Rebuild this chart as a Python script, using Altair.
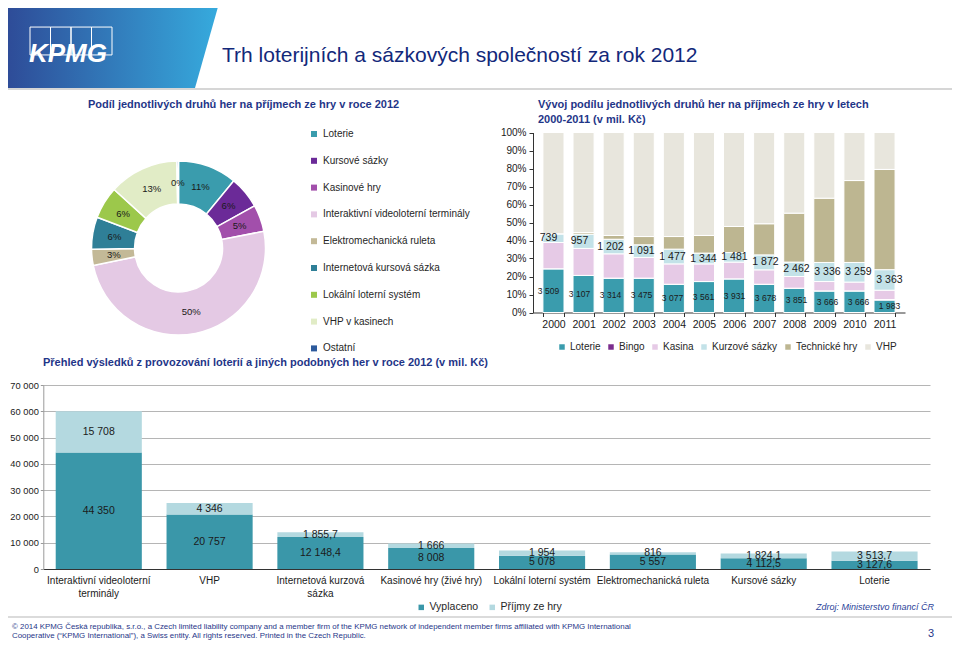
import altair as alt
import pandas as pd

FONT = "Liberation Sans"
NAVY = "#1f3688"
TEXT = "#1a1a1a"

# ---------------- texts ----------------
page_title = "Trh loterijních a sázkových společností za rok 2012"
logo_text = "KPMG"
pie_title = "Podíl jednotlivých druhů her na příjmech ze hry v roce 2012"
trend_title = ["Vývoj podílu  jednotlivých druhů her na příjmech ze hry v letech",
               "2000-2011 (v mil. Kč)"]
bottom_title = "Přehled výsledků z provozování loterií a jiných podobných  her v roce 2012 (v mil. Kč)"
source_text = "Zdroj: Ministerstvo financí ČR"
footer_lines = [
    "© 2014 KPMG Česká republika, s.r.o., a Czech limited liability company and a member firm of the KPMG network of independent member firms affiliated with KPMG International",
    "Cooperative (“KPMG International”), a Swiss entity. All rights reserved. Printed in the Czech Republic.",
]
page_number = "3"

# ---------------- pie (2012 shares, %) ----------------
pie_categories = ["Loterie", "Kursové sázky", "Kasinové hry",
                  "Interaktivní videoloterní terminály", "Elektromechanická ruleta",
                  "Internetová kursová sázka", "Lokální loterní systém",
                  "VHP v kasinech", "Ostatní"]
pie_shares = [11, 6, 5, 50, 3, 6, 6, 13, 0.3]
pie_colors = ["#3a9cad", "#6b2a98", "#a24fab", "#e4c9e4", "#c3b997",
              "#2f7f97", "#9cc84b", "#e1ecc6", "#2d5a9c"]

# ---------------- 100% stacked trend 2000-2011 ----------------
years = ["2000", "2001", "2002", "2003", "2004", "2005",
         "2006", "2007", "2008", "2009", "2010", "2011"]
trend_series = ["Loterie", "Bingo", "Kasina", "Kurzové sázky", "Technické hry", "VHP"]
trend_colors = ["#3a9cad", "#7b2d8e", "#e6cae6", "#c3e2e8", "#bdb691", "#e8e6dd"]
share_loterie = [24.3, 20.6, 19.1, 19.1, 15.7, 17.2, 18.7, 15.7, 13.5, 12.0, 12.0, 6.9]
share_bingo = [0.0, 0.0, 0.0, 0.0, 0.0, 0.0, 0.0, 0.0, 0.0, 0.0, 0.0, 0.3]
share_kasina = [14.6, 15.0, 13.5, 11.5, 11.3, 9.8, 9.3, 8.0, 6.5, 5.2, 4.9, 5.2]
share_kurzove = [4.8, 7.9, 8.1, 7.0, 8.2, 6.0, 5.3, 8.3, 8.0, 10.6, 10.9, 11.4]
share_technicke = [0.0, 0.9, 2.1, 4.6, 7.0, 9.8, 14.5, 17.3, 27.2, 35.7, 45.5, 55.7]
share_vhp = [56.3, 55.6, 57.2, 57.8, 57.8, 57.2, 52.2, 50.7, 44.8, 36.5, 26.7, 20.5]
loterie_values = [3509, 3107, 3314, 3475, 3077, 3561, 3931, 3678, 3851, 3666, 3666, 1983]
kurzove_values = [739, 957, 1202, 1091, 1477, 1344, 1481, 1872, 2462, 3336, 3259, 3363]

# ---------------- bottom stacked bars 2012 (mil. Kč) ----------------
bottom_categories = ["Interaktivní videoloterní terminály", "VHP", "Internetová kurzová sázka",
                     "Kasinové hry (živé hry)", "Lokální loterní systém",
                     "Elektromechanická ruleta", "Kursové sázky", "Loterie"]
bottom_series = ["Vyplaceno", "Příjmy ze hry"]
bottom_colors = ["#3a97a9", "#b4d9e0"]
paid_out = [44350, 20757, 12148.4, 8008, 5078, 5557, 4112.5, 3127.6]
game_revenue = [15708, 4346, 1855.7, 1666, 1954, 816, 1824.1, 3513.7]
bottom_ticks = [0, 10000, 20000, 30000, 40000, 50000, 60000, 70000]


def cz(v):
    if float(v).is_integer():
        return f"{int(v):,}".replace(",", " ")
    return f"{v:,.1f}".replace(",", " ").replace(".", ",")


one = pd.DataFrame({"k": [0]})

# ================= decorations =================
header_band = alt.Chart(one).mark_point(
    shape="M-1,-0.381L0.997,-0.381L0.781,0.381L-1,0.381Z",
    size=44100, filled=True, opacity=1, strokeWidth=0,
    fill=alt.LinearGradient(gradient="linear",
                            stops=[alt.GradientStop(color="#2e4c98", offset=0),
                                   alt.GradientStop(color="#36aadd", offset=1)],
                            x1=0, x2=1, y1=0, y2=0),
).encode(x=alt.value(105), y=alt.value(40))

logo_boxes = alt.Chart(one).mark_point(
    shape="M-1,-0.34H-0.5V0.34H-1Z M-0.5,-0.34H0V0.34H-0.5Z M0,-0.34H0.5V0.34H0Z M0.5,-0.34H1V0.34H0.5Z",
    size=6724, filled=False, opacity=1, stroke="white", strokeWidth=1,
).encode(x=alt.value(63), y=alt.value(33))

logo = alt.Chart(one).mark_text(
    text=logo_text, fontSize=26, fontWeight="bold", fontStyle="italic", color="white",
    align="center", baseline="alphabetic",
).encode(x=alt.value(60), y=alt.value(54))

title = alt.Chart(one).mark_text(
    text=page_title, fontSize=21, color="#12287a", align="left", baseline="alphabetic",
).encode(x=alt.value(214), y=alt.value(54))

header_rule = alt.Chart(one).mark_rule(color="#d6d6d6", strokeWidth=2).encode(
    x=alt.value(0), x2=alt.value(944), y=alt.value(81))
footer_rule = alt.Chart(one).mark_rule(color="#cfcfcf", strokeWidth=1.5).encode(
    x=alt.value(0), x2=alt.value(944), y=alt.value(609))


def label_text(txt, x, y, size=11, weight="bold", color=NAVY, align="left", style="normal", lh=15):
    return alt.Chart(one).mark_text(
        text=txt, fontSize=size, fontWeight=weight, color=color, align=align,
        baseline="alphabetic", fontStyle=style, lineHeight=lh,
    ).encode(x=alt.value(x), y=alt.value(y))


t_pie = label_text(pie_title, 80, 100)
t_trend = label_text(trend_title, 530, 100)
t_bottom = label_text(bottom_title, 35, 358)
t_source = label_text(source_text, 926, 602, size=9, weight="normal", color="#2b3f99",
                      align="right", style="italic")
t_footer = label_text(footer_lines, 4, 621, size=7.9, weight="normal", color="#1f3688", lh=8.5)
t_page = label_text(page_number, 926, 629, size=11, weight="normal", color=NAVY, align="right")

# ================= pie =================
pie_df = pd.DataFrame({
    "cat": pie_categories,
    "share": pie_shares,
    "idx": list(range(len(pie_categories))),
    "label": [f"{round(s)}%" for s in pie_shares],
})
CX, CY = 170.5, 240
pie_arc = alt.Chart(pie_df).mark_arc(innerRadius=44, outerRadius=87, stroke="white", strokeWidth=1.5).encode(
    theta=alt.Theta("share:Q", stack=True),
    order=alt.Order("idx:Q"),
    color=alt.Color("cat:N", scale=alt.Scale(domain=pie_categories, range=pie_colors),
                    legend=alt.Legend(orient="none", legendX=301, legendY=121, direction="vertical",
                                      title=None, symbolType="square", symbolSize=36,
                                      symbolStrokeWidth=0, labelFontSize=10, labelColor="#262626",
                                      rowPadding=16.8, labelOffset=4, labelLimit=300)),
    x=alt.value(CX), y=alt.value(CY),
)
pie_lab = alt.Chart(pie_df).mark_text(radius=65, fontSize=9.5, color=TEXT).encode(
    theta=alt.Theta("share:Q", stack=True),
    order=alt.Order("idx:Q"),
    text="label:N",
    x=alt.value(CX), y=alt.value(CY),
)

# ================= trend 100% bars =================
series_lists = [share_loterie, share_bingo, share_kasina, share_kurzove, share_technicke, share_vhp]
rows = []
for i, yr in enumerate(years):
    for j, s in enumerate(trend_series):
        lab = ""
        if s == "Loterie":
            lab = cz(loterie_values[i])
        elif s == "Kurzové sázky":
            lab = cz(kurzove_values[i])
        rows.append({"year": yr, "series": s, "share": series_lists[j][i], "sidx": j, "label": lab})
trend_df = pd.DataFrame(rows)


def tx():
    return alt.Scale(domain=years, range=[525, 897], paddingInner=0.3, paddingOuter=0.33)


def ty():
    return alt.Scale(domain=[0, 1], range=[304.5, 124.5], nice=False)


trend_bars = alt.Chart(trend_df).mark_bar(stroke="white", strokeWidth=1).encode(
    x=alt.X("year:N", sort=years, scale=tx(),
            axis=alt.Axis(orient="bottom", offset=-327.5, title=None, labelAngle=0, labelFontSize=10.5,
                          labelColor=TEXT, domainColor="#333333", tickColor="#333333", tickSize=4,
                          tickBand="extent", labelPadding=3, grid=False, labelOverlap=False)),
    y=alt.Y("share:Q", stack="normalize", scale=ty(),
            axis=alt.Axis(orient="left", offset=-525, title=None, format=".0%",
                          values=[i / 10 for i in range(11)], labelFontSize=10, labelColor=TEXT,
                          domainColor="#333333", tickColor="#333333", tickSize=4, grid=False,
                          labelPadding=3)),
    color=alt.Color("series:N", scale=alt.Scale(domain=trend_series, range=trend_colors),
                    legend=alt.Legend(orient="none", legendX=549, legendY=334, direction="horizontal",
                                      title=None, symbolType="square", symbolSize=30,
                                      symbolStrokeWidth=0, labelFontSize=10, labelColor="#262626",
                                      columnPadding=5, labelOffset=3)),
    order=alt.Order("sidx:Q"),
)

trend_base = alt.Chart(trend_df).transform_joinaggregate(
    total="sum(share)", groupby=["year"]
).transform_stack(
    stack="share", groupby=["year"], as_=["s0", "s1"], sort=[alt.SortField("sidx", order="ascending")]
).transform_calculate(mid="(datum.s0 + datum.s1) / 2 / datum.total")

trend_lot = trend_base.transform_filter("datum.series == 'Loterie'").mark_text(
    fontSize=8.5, color=TEXT).encode(
    x=alt.X("year:N", sort=years, scale=tx(), axis=None),
    y=alt.Y("mid:Q", scale=ty(), axis=None),
    text="label:N")
trend_kurz = trend_base.transform_filter("datum.series == 'Kurzové sázky'").mark_text(
    fontSize=10.5, color=TEXT).encode(
    x=alt.X("year:N", sort=years, scale=tx(), axis=None),
    y=alt.Y("mid:Q", scale=ty(), axis=None),
    text="label:N")

# ================= bottom stacked bars =================
brows = []
for i, c in enumerate(bottom_categories):
    brows.append({"category": c, "series": bottom_series[0], "value": paid_out[i], "sidx": 0,
                  "label": cz(paid_out[i])})
    brows.append({"category": c, "series": bottom_series[1], "value": game_revenue[i], "sidx": 1,
                  "label": cz(game_revenue[i])})
bottom_df = pd.DataFrame(brows)


def bx():
    return alt.Scale(domain=bottom_categories, range=[35.3, 922], paddingInner=0.223, paddingOuter=0.112)


def by():
    return alt.Scale(domain=[0, 70000], range=[561, 377], nice=False)


wrap_expr = ("datum.value == 'Interaktivní videoloterní terminály' ? ['Interaktivní videoloterní', 'terminály'] : "
             "datum.value == 'Internetová kurzová sázka' ? ['Internetová kurzová', 'sázka'] : datum.value")

bottom_bars = alt.Chart(bottom_df).mark_bar().encode(
    x=alt.X("category:N", sort=bottom_categories, scale=bx(),
            axis=alt.Axis(orient="bottom", offset=-71, title=None, labelAngle=0, ticks=False,
                          labelFontSize=10, labelColor=TEXT, domainColor="#333333", domainWidth=1.2,
                          labelPadding=6, labelExpr=wrap_expr, labelLineHeight=13.5,
                          labelOverlap=False, labelLimit=300)),
    y=alt.Y("value:Q", stack="zero", scale=by(),
            axis=alt.Axis(orient="left", offset=-35.3, title=None, values=bottom_ticks,
                          labelExpr="replace(format(datum.value, ','), ',', ' ')",
                          labelFontSize=9.3, labelColor=TEXT, grid=True, gridColor="#b5b5b5",
                          gridWidth=1.2, domainColor="#9a9a9a", tickColor="#9a9a9a", tickSize=3,
                          labelPadding=2)),
    color=alt.Color("series:N", scale=alt.Scale(domain=bottom_series, range=bottom_colors),
                    legend=alt.Legend(orient="none", legendX=408, legendY=594, direction="horizontal",
                                      title=None, symbolType="square", symbolSize=30,
                                      symbolStrokeWidth=0, labelFontSize=10.5, labelColor="#262626",
                                      columnPadding=8, labelOffset=3)),
    order=alt.Order("sidx:Q"),
)
bottom_lab = alt.Chart(bottom_df).transform_stack(
    stack="value", groupby=["category"], as_=["v0", "v1"], sort=[alt.SortField("sidx", order="ascending")]
).transform_calculate(mid="(datum.v0 + datum.v1) / 2").mark_text(fontSize=10.5, color=TEXT).encode(
    x=alt.X("category:N", sort=bottom_categories, scale=bx(), axis=None),
    y=alt.Y("mid:Q", scale=by(), axis=None),
    text="label:N",
)

chart = alt.layer(
    header_band, logo_boxes, logo, title, header_rule, footer_rule,
    t_pie, t_trend, t_bottom, t_source, t_footer, t_page,
    pie_arc, pie_lab, trend_bars, trend_lot, trend_kurz, bottom_bars, bottom_lab,
).resolve_scale(
    x="independent", y="independent", color="independent", theta="independent"
).resolve_axis(
    x="independent", y="independent"
).resolve_legend(
    color="independent"
).properties(
    width=944, height=632, padding=0, autosize=alt.AutoSizeParams(type="none")
).configure(font=FONT).configure_view(strokeWidth=0)

chart.save("out.html", embed_options={"renderer": "svg", "actions": False})
